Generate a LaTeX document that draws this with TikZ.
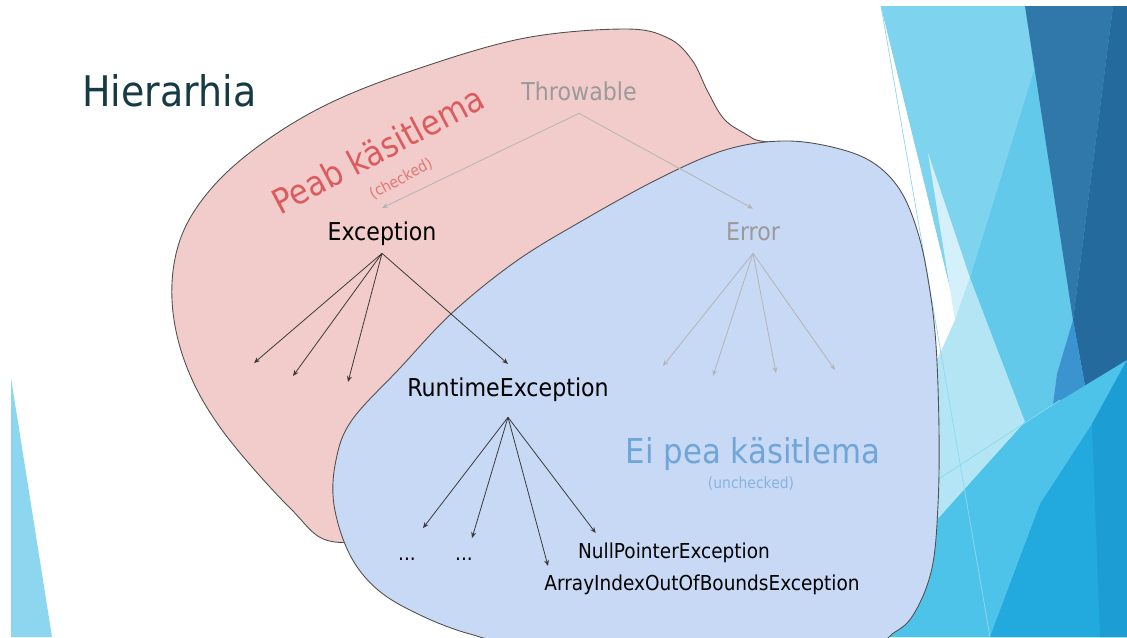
\documentclass[tikz,border=0pt]{standalone}
\usepackage{fontspec}
\setmainfont{DejaVu Sans}[FakeStretch=0.9]
\usepackage{xcolor}
\usetikzlibrary{arrows.meta,calc}

\definecolor{titleink}{HTML}{173B45}
\definecolor{greyink}{HTML}{9A9A9A}
\definecolor{redink}{HTML}{DC5B5E}
\definecolor{redsoft}{HTML}{E07878}
\definecolor{blueink}{HTML}{6FA5D9}
\definecolor{bluesoft}{HTML}{88B3E0}
\definecolor{pinkfill}{HTML}{F2CBCB}
\definecolor{bluefill}{HTML}{C8D9F5}
\definecolor{blobline}{HTML}{505050}
\definecolor{arrowdark}{HTML}{3A3A3A}
\definecolor{arrowpale}{HTML}{B4B4B4}
\definecolor{facetleft}{HTML}{8DD6EF}
\definecolor{facetcyan}{HTML}{7ED4EF}
\definecolor{facetwhite}{HTML}{D4F0FA}
\definecolor{facetmid}{HTML}{63C9EA}
\definecolor{facetpale}{HTML}{B3E5F5}
\definecolor{facetdark}{HTML}{2F78A9}
\definecolor{facetnavy}{HTML}{256A9D}
\definecolor{facetsteel}{HTML}{3B93D0}
\definecolor{facetsky}{HTML}{4DC3EA}
\definecolor{facetsea}{HTML}{22A9DD}
\definecolor{facetdeep}{HTML}{1C9ED5}
\definecolor{facetline}{HTML}{8ED8F0}

\begin{document}
\begin{tikzpicture}[x=0.02cm,y=-0.02cm,>={Stealth[length=3.4pt,width=2.8pt]},
  cls/.style={inner xsep=2pt,inner ysep=7.4pt,text depth=0pt,font=\fontsize{14}{16}\selectfont},
  leaf/.style={inner sep=0pt,font=\fontsize{11.7}{14}\selectfont},
  bigtag/.style={inner sep=0pt,font=\fontsize{19.5}{22}\selectfont},
  smalltag/.style={inner sep=0pt,font=\fontsize{8.8}{10}\selectfont},
  darkarrow/.style={->,draw=arrowdark,line width=0.45pt},
  palearrow/.style={->,draw=arrowpale,line width=0.45pt},
  blob/.style={draw=blobline,line width=0.5pt}]
  \useasboundingbox (0,0) rectangle (1127,637);
  \fill[white] (0,0) rectangle (1127,637);
  \clip (0,0) rectangle (1127,637);

  \fill[facetleft] (11,378) -- (52,637) -- (11,637) -- cycle;
  \fill[facetmid] (881,6) -- (1127,6) -- (1127,637) -- (860,637) -- (937,520) -- (937,360) -- (958,320) -- cycle;
  \fill[facetcyan] (881,6) -- (1025,6) -- (1034,70) -- (970,278) -- (958,320) -- cycle;
  \fill[facetwhite] (928,153) -- (970,278) -- (955,320) -- cycle;
  \fill[facetpale] (955,320) -- (970,278) -- (1025,422) -- (937,520) -- (937,360) -- cycle;
  \fill[facetdark] (1025,6) -- (1113,6) -- (1073,320) -- cycle;
  \fill[facetnavy] (1113,6) -- (1127,6) -- (1127,360) -- (1092,424) -- (1073,320) -- cycle;
  \fill[facetsteel] (1073,320) -- (1092,424) -- (1040,504) -- (1057,374) -- cycle;
  \fill[facetsky] (937,520) -- (1025,422) -- (1127,360) -- (1127,637) -- (860,637) -- cycle;
  \fill[facetsea] (990,637) -- (1040,504) -- (1092,424) -- (1127,360) -- (1127,637) -- cycle;
  \fill[facetdeep] (1100,637) -- (1092,424) -- (1127,360) -- (1127,637) -- cycle;
  \draw[facetline,line width=0.4pt] (881,6) -- (990,637);
  \draw[facetline,line width=0.4pt] (937,480) -- (1060,400);

  \filldraw[blob,fill=pinkfill] plot[smooth cycle,tension=0.6] coordinates {(625,29) (668,38) (692,60) (708,92) (725,120) (752,138) (800,170) (760,350) (560,480) (420,525) (335,542) (290,508) (222,430) (186,365) (172,300) (180,240) (210,190) (260,145) (330,103) (420,68) (525,38)};
  \filldraw[blob,fill=bluefill] plot[smooth cycle,tension=0.6] coordinates {(782,141) (832,147) (872,162) (900,190) (918,233) (929,285) (936,345) (939,430) (938,505) (932,568) (915,612) (895,632) (860,645) (700,648) (520,642) (470,634) (420,615) (378,590) (350,555) (334,505) (336,460) (352,420) (400,368) (452,313) (515,262) (580,222) (660,178) (725,150)};

  \node[inner sep=0pt,anchor=base west,text=titleink,font=\fontsize{24}{28}\selectfont] (title) at (82,106) {Hierarhia};

  \node[bigtag,text=redink,rotate=27.8,anchor=base] (peab) at (384,161) {Peab käsitlema};
  \node[smalltag,text=redsoft,rotate=27.8] (checked) at (401,179) {(checked)};
  \node[bigtag,text=blueink,anchor=base] (eipea) at (753,463) {Ei pea käsitlema};
  \node[smalltag,text=bluesoft] (unchecked) at (751,484) {(unchecked)};

  \node[cls,text=greyink,anchor=base] (thr) at (579,100) {Throwable};
  \node[cls,anchor=base] (exc) at (382,240) {Exception};
  \node[cls,text=greyink,anchor=base] (err) at (753,240) {Error};
  \node[cls,text depth=4.5pt,anchor=base] (rte) at (508,396) {RuntimeException};
  \node[leaf,anchor=base] (dotA) at (407,560) {...};
  \node[leaf,anchor=base] (dotB) at (464,560) {...};
  \node[leaf,anchor=base] (npe) at (674,558) {NullPointerException};
  \node[leaf,anchor=base] (aioobe) at (702,590) {ArrayIndexOutOfBoundsException};

  \coordinate (exA) at (254,363);
  \coordinate (exB) at (293,376);
  \coordinate (exC) at (348,382);
  \coordinate (erA) at (663,366);
  \coordinate (erB) at (713,376);
  \coordinate (erC) at (776,373);
  \coordinate (erD) at (835,370);

  \draw[palearrow] (thr.south) -- (exc.north);
  \draw[palearrow] (thr.south) -- (err.north);
  \draw[darkarrow] (exc.south) -- (exA);
  \draw[darkarrow] (exc.south) -- (exB);
  \draw[darkarrow] (exc.south) -- (exC);
  \draw[darkarrow] (exc.south) -- (rte.north);
  \draw[palearrow] (err.south) -- (erA);
  \draw[palearrow] (err.south) -- (erB);
  \draw[palearrow] (err.south) -- (erC);
  \draw[palearrow] (err.south) -- (erD);
  \draw[darkarrow] (rte.south) -- ($(dotA.north)+(16,-29)$);
  \draw[darkarrow] (rte.south) -- ($(dotB.north)+(8,-19)$);
  \draw[darkarrow] (rte.south) -- ($(aioobe.north west)+(4,-8)$);
  \draw[darkarrow] (rte.south) -- ($(npe.north west)+(18,-9)$);
\end{tikzpicture}
\end{document}
